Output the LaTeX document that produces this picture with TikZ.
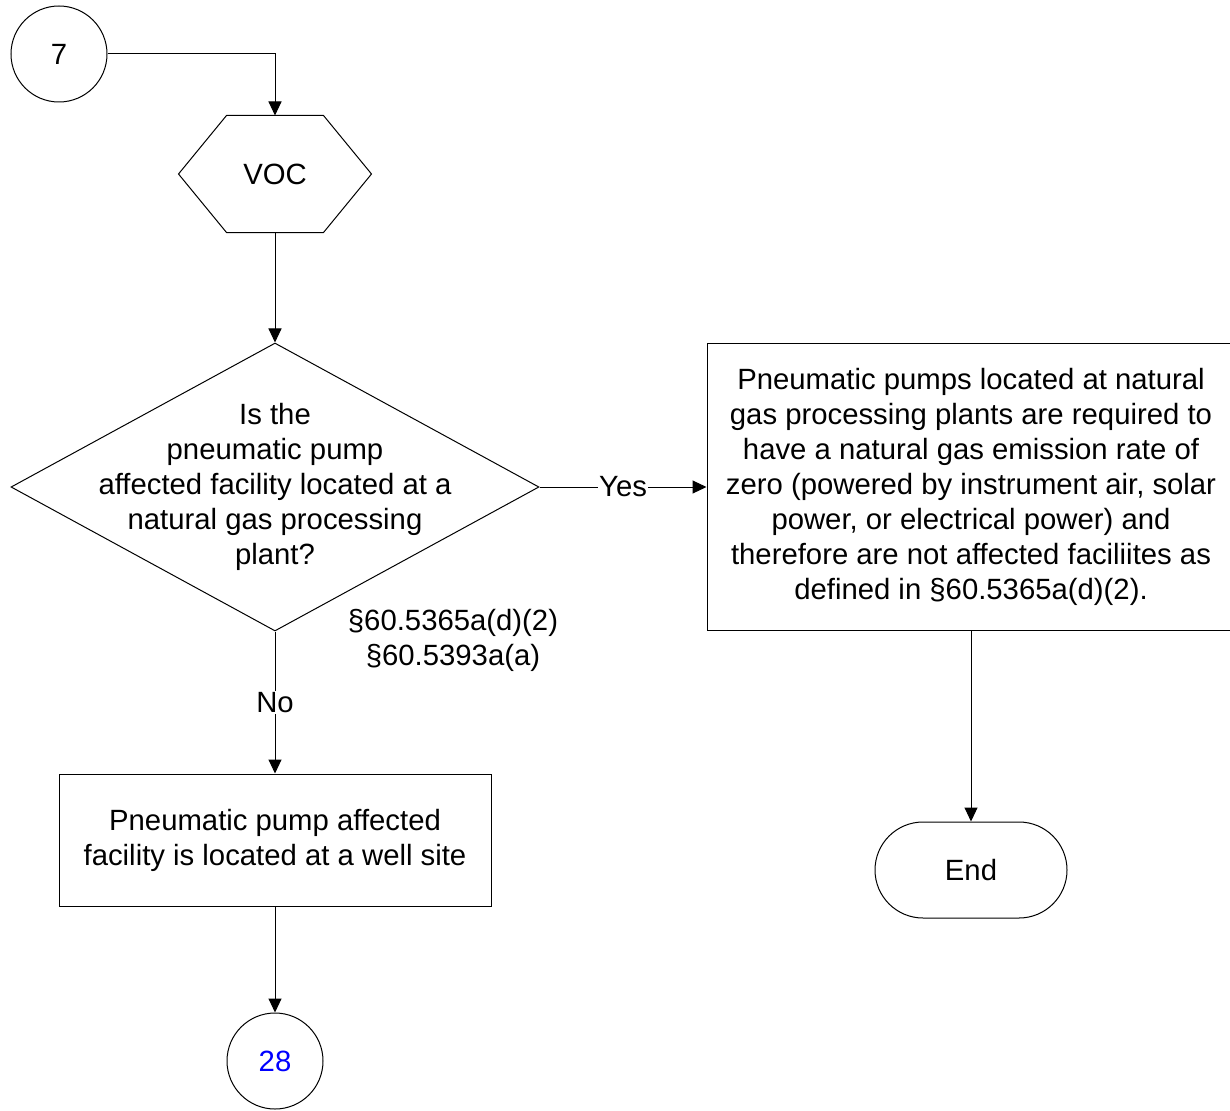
\documentclass[tikz,border=0pt]{standalone}
\usepackage{fontspec}
\setmainfont{Liberation Sans}
\usetikzlibrary{shapes.geometric,arrows.meta}

\begin{document}
\begin{tikzpicture}[x=1pt, y=-1pt, line width=1pt, font=\fontsize{29.3}{35}\selectfont,
    conn/.style={circle,draw,minimum size=96pt,inner sep=0pt},
    proc/.style={rectangle,draw,align=center,inner sep=0pt},
    flow/.style={-{Triangle[length=14pt,width=13pt]}},
    lbl/.style={fill=white,inner sep=1pt}]
      \useasboundingbox (0,0) rectangle (1230,1110);
      \clip (0,0) rectangle (1230,1110);

      \node[conn] (c7) at (59,54) {7};
      \node[minimum width=192pt, minimum height=116pt, inner sep=0pt] (voc) at (275,174) {VOC};
      \node[diamond, draw, minimum width=528pt, minimum height=288pt, inner sep=0pt] (q) at (275,487) {};
      \node[align=center] (qt) at (q) {Is the\\pneumatic pump\\affected facility located at a\\natural gas processing\\plant?};
      \node[align=center] (refs) at (453,640) {§60.5365a(d)(2)\\§60.5393a(a)};
      \node[proc, minimum width=528pt, minimum height=287pt] (p) at (971,487)
        {Pneumatic pumps located at natural\\gas processing plants are required to\\have a natural gas emission rate of\\zero (powered by instrument air, solar\\power, or electrical power) and\\therefore are not affected faciliites as\\defined in §60.5365a(d)(2).};
      \node[proc, minimum width=432pt, minimum height=132pt] (w) at (275,840)
        {Pneumatic pump affected\\facility is located at a well site};
      \node[draw, rounded corners=48pt, minimum width=192pt, minimum height=96pt] (stop) at (971,870) {End};
      \node[conn, text=blue] (c28) at (275,1061) {28};

      % hexagon outline
      \draw (voc.west) -- ([xshift=48pt]voc.north west) -- ([xshift=-48pt]voc.north east)
        -- (voc.east) -- ([xshift=-48pt]voc.south east) -- ([xshift=48pt]voc.south west) -- cycle;

      \draw[flow] (c7) -| (voc);
      \draw[flow] (voc) -- (q);
      \draw[flow] (q) -- (p) node [midway, lbl] (yes) {Yes};
      \draw[flow] (q) -- (w) node [midway, lbl] (no) {No};
      \draw[flow] (w) -- (c28);
      \draw[flow] (p) -- (stop);
    \end{tikzpicture}
\end{document}
